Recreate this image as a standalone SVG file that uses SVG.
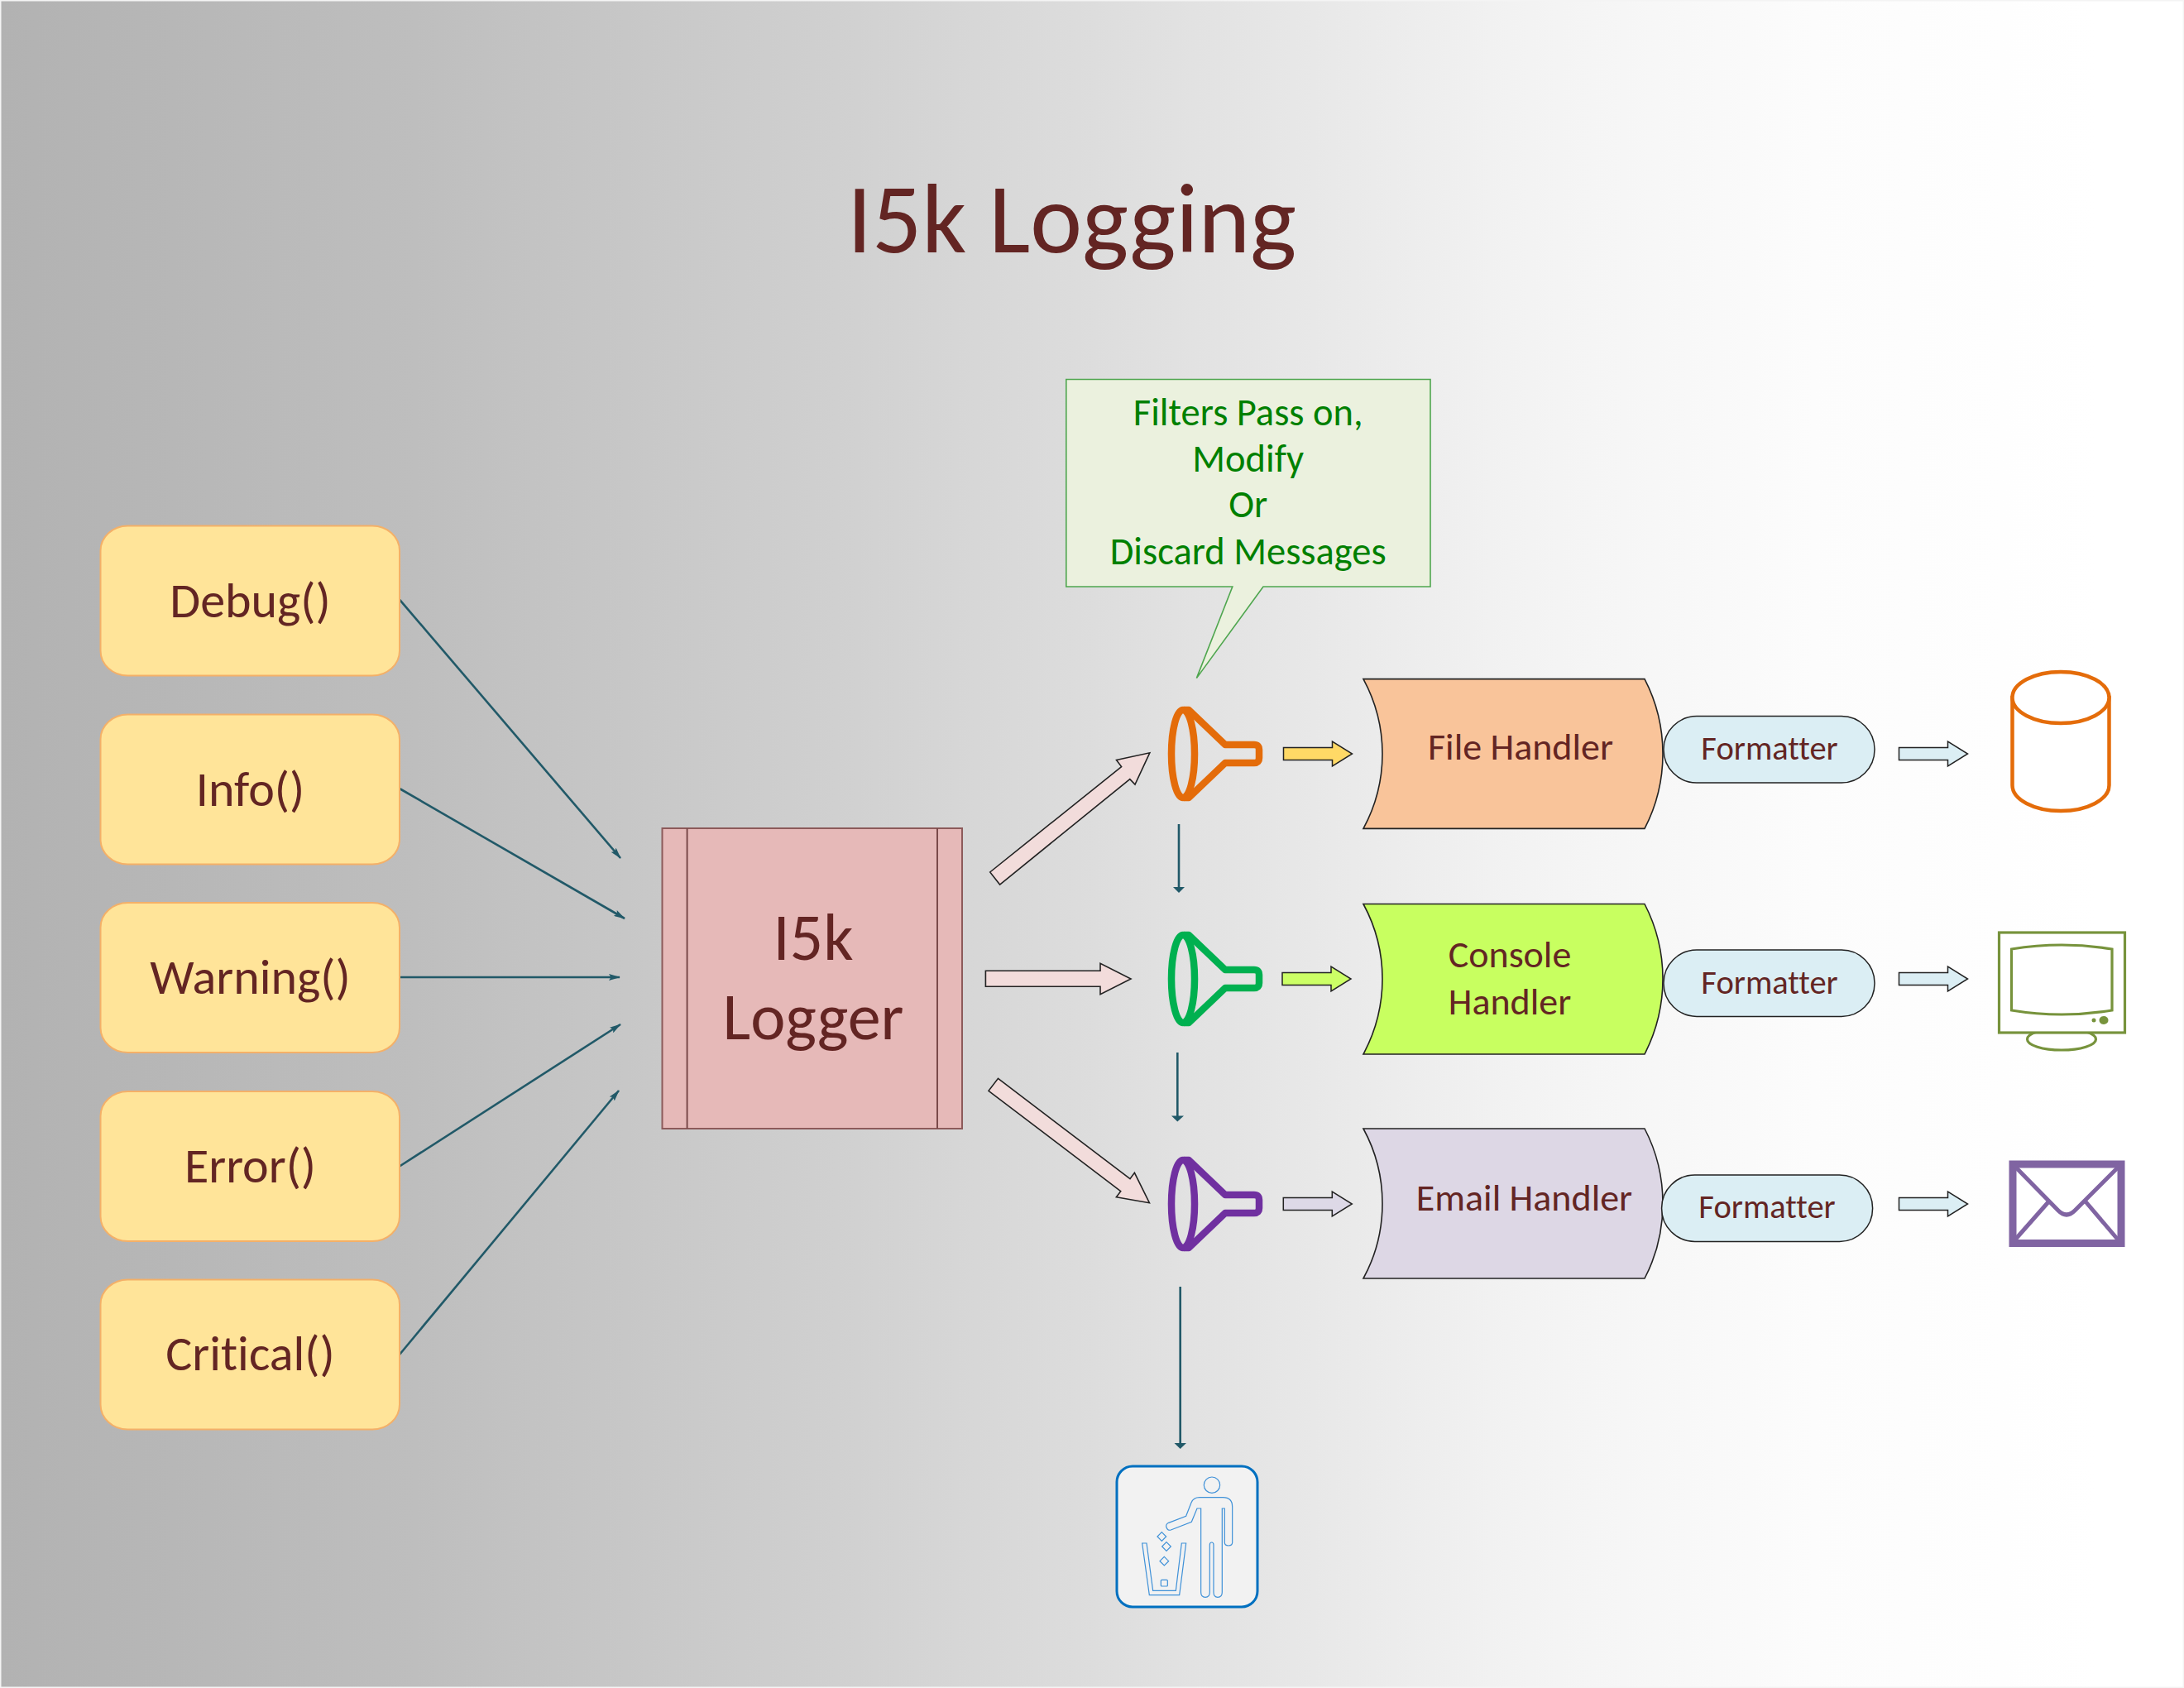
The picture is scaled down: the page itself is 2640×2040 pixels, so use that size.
<svg xmlns="http://www.w3.org/2000/svg" xmlns:xlink="http://www.w3.org/1999/xlink" width="2640" height="2040" viewBox="0 0 2640 2040">
<style>
text{font-family:"Carlito","Lato","Liberation Sans",sans-serif;fill:#632523;text-anchor:middle;font-variant-ligatures:none}
.src rect{fill:#FFE499;stroke:#F4B068;stroke-width:2}
.src text{font-size:60px}
.big{fill:#F2DCDB;stroke:#222;stroke-width:1.6}
.hnd{stroke:#222;stroke-width:1.6}
.fmt rect{fill:#DBEEF4;stroke:#222;stroke-width:1.5}
.fmt text{font-size:40.5px}
.hd text{font-size:46px}
.ln{stroke:#215968;stroke-width:2.6;fill:none}
.blu{fill:#DBEEF4;stroke:#222;stroke-width:1.5}
.fl{fill:none;stroke-width:8.5;stroke-linejoin:round}
.co text{font-size:46.5px;fill:#008000}
.tr{fill:none;stroke:#3F91D8;stroke-width:3.6}
</style>
<defs>
<linearGradient id="bg" gradientUnits="userSpaceOnUse" x1="0" y1="0" x2="2640" y2="0">
<stop offset="0" stop-color="#B2B2B2"/><stop offset=".19" stop-color="#BEBEBE"/><stop offset=".383" stop-color="#D0D0D0"/><stop offset=".574" stop-color="#E5E5E5"/><stop offset=".638" stop-color="#ECECEC"/><stop offset=".7" stop-color="#F3F3F3"/><stop offset=".83" stop-color="#FCFCFC"/><stop offset=".96" stop-color="#FFFFFF"/>
</linearGradient>
<marker id="ah" viewBox="0 0 14 8" refX="13" refY="4" markerWidth="14" markerHeight="8" markerUnits="userSpaceOnUse" orient="auto"><path d="M0,0L14,4L0,8L2.5,4Z" fill="#215968"/></marker>
<g id="funnel"><ellipse cx="1430" cy="0" rx="14" ry="53"/><path d="M1431,-53H1437L1481,-11H1516Q1522,-11 1522,-5V5Q1522,11 1516,11H1481L1437,53H1431"/></g>
<path id="harrow" d="M0,-7.5H59V-15L83,0L59,15V7.5H0Z"/>
</defs>
<rect id="background" x="0.75" y="0.75" width="2638.5" height="2038.5" fill="url(#bg)" stroke="#F4F4F4" stroke-width="1.5"/>
<text id="title" x="1295.5" y="304.5" font-size="119">I5k Logging</text>

<g id="connectors">
<line class="ln" x1="483" y1="724.6" x2="750" y2="1037" marker-end="url(#ah)"/>
<line class="ln" x1="483" y1="953" x2="755" y2="1110" marker-end="url(#ah)"/>
<line class="ln" x1="483" y1="1181" x2="749" y2="1181" marker-end="url(#ah)"/>
<line class="ln" x1="483" y1="1409.5" x2="750" y2="1238" marker-end="url(#ah)"/>
<line class="ln" x1="483" y1="1637" x2="748" y2="1318" marker-end="url(#ah)"/>
<path class="ln" d="M1425,996V1073"/><path d="M1418,1072H1432L1425,1079Z" fill="#215968"/>
<path class="ln" d="M1423.3,1272V1349"/><path d="M1416,1348.5H1431L1423.3,1355.5Z" fill="#215968"/>
<path class="ln" d="M1426.7,1555V1745"/><path d="M1419.5,1744H1434L1426.7,1751Z" fill="#215968"/>
<path class="big" d="M1191.4,1173.3H1330V1164.3L1367,1183L1330,1201.7V1192.3H1191.4Z"/>
<path class="big" d="M1196.7,1054L1355.6,926.5L1349.5,918.4L1389.8,909.8L1372,948L1365.8,941.6L1208.6,1069Z"/>
<path class="big" d="M1206.5,1303.3L1366,1424.7L1371.4,1417.3L1389.4,1453.7L1349.4,1446.7L1354.7,1439.7L1195,1318.3Z"/>
<use href="#harrow" transform="translate(1551.5,911)" fill="#FFD966" stroke="#222" stroke-width="1.5"/>
<use href="#harrow" transform="translate(1550,1183)" fill="#CCFF66" stroke="#222" stroke-width="1.5"/>
<use href="#harrow" transform="translate(1551.3,1455)" fill="#DDD9E7" stroke="#222" stroke-width="1.5"/>
<use href="#harrow" class="blu" transform="translate(2295.5,911)"/>
<use href="#harrow" class="blu" transform="translate(2295.5,1183)"/>
<use href="#harrow" class="blu" transform="translate(2295.5,1455)"/>
</g>

<g id="debug" class="src"><rect x="121.5" y="635.5" width="361.5" height="181" rx="33" ry="30"/><text x="302.5" y="746">Debug()</text></g>
<g id="info" class="src"><rect x="121.5" y="863.5" width="361.5" height="181" rx="33" ry="30"/><text x="302.5" y="974">Info()</text></g>
<g id="warning" class="src"><rect x="121.5" y="1091" width="361.5" height="181" rx="33" ry="30"/><text x="302.5" y="1201">Warning()</text></g>
<g id="error" class="src"><rect x="121.5" y="1319" width="361.5" height="181" rx="33" ry="30"/><text x="302.5" y="1429">Error()</text></g>
<g id="critical" class="src"><rect x="121.5" y="1546.5" width="361.5" height="181" rx="33" ry="30"/><text x="302.5" y="1656">Critical()</text></g>

<g id="logger">
<rect x="800.5" y="1001" width="362.5" height="363" fill="#E6B9B8" stroke="#8C5A5A" stroke-width="2"/>
<path d="M830.6,1001V1364M1133,1001V1364" stroke="#7A4A4A" stroke-width="2" fill="none"/>
<text x="983" y="1160" font-size="80">I5k</text><text x="983" y="1255.5" font-size="80">Logger</text>
</g>

<g id="callout" class="co">
<path d="M1288.8,458.5H1729V709H1527L1446.4,819.6L1489.8,709H1288.8Z" fill="#EBF1DE" stroke="#4FA64F" stroke-width="1.6"/>
<text x="1508.7" y="514">Filters Pass on,</text><text x="1508.7" y="570">Modify</text><text x="1508.7" y="625">Or</text><text x="1508.7" y="681.5">Discard Messages</text>
</g>

<g id="filter-1"><use href="#funnel" class="fl" transform="translate(0,911)" stroke="#E46C0A"/></g>
<g id="filter-2"><use href="#funnel" class="fl" transform="translate(0,1183)" stroke="#00B050"/></g>
<g id="filter-3"><use href="#funnel" class="fl" transform="translate(0,1455)" stroke="#7030A0"/></g>

<g id="file-handler" class="hd"><path class="hnd" fill="#F9C49A" d="M1648,820.6H1988Q2010,863 2010,911Q2010,959 1988,1001.4H1648Q1671,959 1671,911Q1671,863 1648,820.6Z"/><text x="1838" y="917.5">File Handler</text></g>
<g id="console-handler" class="hd"><path class="hnd" fill="#C8FF60" d="M1648,1092.5H1988Q2010,1135 2010,1183Q2010,1231 1988,1274H1648Q1671,1231 1671,1183Q1671,1135 1648,1092.5Z"/><text x="1825" y="1168.5">Console</text><text x="1825" y="1225.5">Handler</text></g>
<g id="email-handler" class="hd"><path class="hnd" fill="#DDD7E5" d="M1648,1364H1988Q2010,1406 2010,1454.5Q2010,1503 1988,1545H1648Q1671,1503 1671,1454.5Q1671,1406 1648,1364Z"/><text x="1842.5" y="1462.5">Email Handler</text></g>

<g id="formatter-1" class="fmt"><rect x="2011" y="865.6" width="255" height="80.4" rx="40" ry="40"/><text x="2139" y="918">Formatter</text></g>
<g id="formatter-2" class="fmt"><rect x="2011" y="1148" width="255" height="80.4" rx="40" ry="40"/><text x="2139" y="1200.5">Formatter</text></g>
<g id="formatter-3" class="fmt"><rect x="2008.6" y="1420" width="255" height="80.4" rx="40" ry="40"/><text x="2136" y="1472">Formatter</text></g>

<g id="database" fill="#fff" stroke="#E46C0A" stroke-width="4.5"><path d="M2432.5,843V949A58.5,31 0 0 0 2549.5,949V843Z"/><ellipse cx="2491" cy="843" rx="58.5" ry="31"/></g>

<g id="monitor" fill="#fff" stroke="#77933C" stroke-width="3.2">
<ellipse cx="2492" cy="1256" rx="41.5" ry="13"/>
<rect x="2416.5" y="1127" width="152" height="121"/>
<path d="M2431.5,1147Q2492,1137 2553,1147V1221Q2492,1231 2431.5,1221Z"/>
<circle cx="2531" cy="1233" r="2.5" fill="#77933C" stroke="none"/><ellipse cx="2543" cy="1233" rx="5.5" ry="5" fill="#77933C" stroke="none"/>
</g>

<g id="mail" fill="#fff" stroke="#8064A2">
<rect x="2433" y="1407" width="131" height="95.5" stroke-width="9"/>
<path d="M2433,1407L2488,1463Q2498,1473 2508,1463L2564,1407M2477.5,1451L2436,1498M2520,1451L2560,1498" fill="none" stroke-width="5"/>
</g>

<g id="trash">
<rect x="1350" y="1772" width="170" height="170" rx="19" fill="#F2F2F2" stroke="#0070C0" stroke-width="3"/>
<g class="tr" transform="translate(1340,1761) scale(.3333)">
<circle cx="375" cy="101" r="29"/>
<path d="M218,238L281,214L300,165Q308,146 330,146L415,146Q449,146 449,180L449,310Q449,321 435,321Q421,321 421,310L421,186L412,186L412,490Q412,508 396,508Q381,508 381,490L381,318Q381,309 374,309Q367,309 367,318L367,490Q367,508 351,508Q335,508 335,490L335,186L321,186L301,235L226,264Q214,268 209,252Q208,243 218,238Z"/>
<path d="M122,312L138,312L161,484L244,484L265,312L281,312L257,500L148,500Z"/>
<path d="M193,272L209,288L193,304L177,288ZM210,308L226,324L210,340L194,324ZM202,361L218,377L202,393L186,377Z"/>
<rect x="190" y="445" width="24" height="23" rx="3"/>
</g>
</g>
</svg>
